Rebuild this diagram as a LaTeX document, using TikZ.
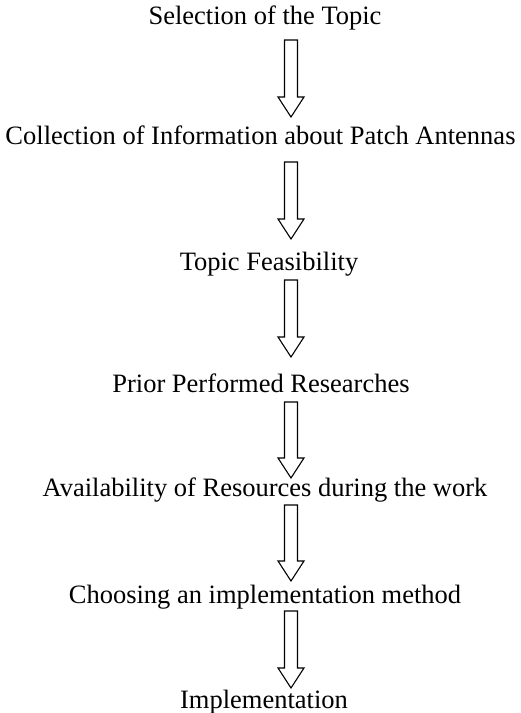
\documentclass[tikz,border=0pt]{standalone}
\usepackage{fontspec}
\setmainfont{Liberation Serif}
\usetikzlibrary{calc}

\begin{document}
\begin{tikzpicture}[
    x=1pt, y=1pt,
    every node/.style={font=\fontsize{26.5}{30}\selectfont},
    step text/.style={inner sep=0pt, anchor=base},
    hollow arrow/.style={draw=black, line width=1.1pt, line join=miter,
      to path={let \p1=(\tikztostart), \p2=(\tikztotarget) in
        (\x1-6.5pt,\y1) -- (\x1-6.5pt,\y2+20pt) -- (\x1-13pt,\y2+20pt) -- (\x2,\y2)
        -- (\x1+13pt,\y2+20pt) -- (\x1+6.5pt,\y2+20pt) -- (\x1+6.5pt,\y1) -- cycle}}
  ]
    \useasboundingbox (0,0) rectangle (521,713);

    % Seven steps, one below the other
    \node[step text] (topic) at (265,688) {Selection of the Topic};
    \node[step text] (info) at (260.5,568) {Collection of Information about Patch Antennas};
    \node[step text] (feasible) at (269,442) {Topic Feasibility};
    \node[step text] (prior) at (261,320) {Prior Performed Researches};
    \node[step text] (resources) at (265,216) {Availability of Resources during the work};
    \node[step text] (method) at (265,109) {Choosing an implementation method};
    \node[step text] (implement) at (264,5) {Implementation};

    % Column of the block arrows
    \coordinate (axis) at (291,0);

    \draw[hollow arrow] ([yshift=-15pt]topic.base -| axis) to ([yshift=28pt]info.base -| axis);
    \draw[hollow arrow] ([yshift=-17pt]info.base -| axis) to ([yshift=32pt]feasible.base -| axis);
    \draw[hollow arrow] ([yshift=-9pt]feasible.base -| axis) to ([yshift=36pt]prior.base -| axis);
    \draw[hollow arrow] ([yshift=-9pt]prior.base -| axis) to ([yshift=19pt]resources.base -| axis);
    \draw[hollow arrow] ([yshift=-8pt]resources.base -| axis) to ([yshift=23pt]method.base -| axis);
    \draw[hollow arrow] ([yshift=-7pt]method.base -| axis) to ([yshift=20pt]implement.base -| axis);
  \end{tikzpicture}
\end{document}
